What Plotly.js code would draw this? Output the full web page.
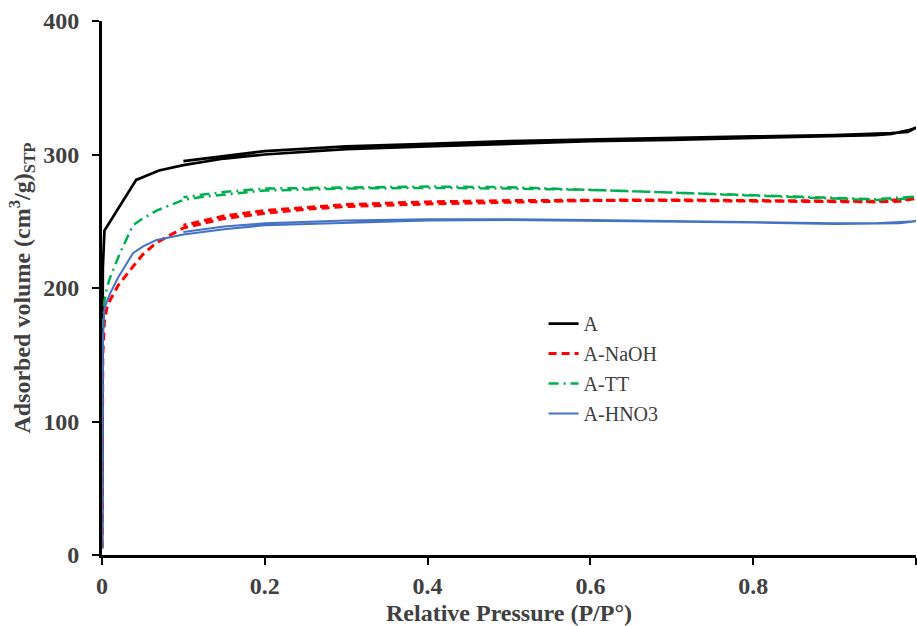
<!DOCTYPE html>
<html>
<head>
<meta charset="utf-8">
<script src="https://cdn.plot.ly/plotly-3.0.1.min.js"></script>
<style>html,body{margin:0;padding:0;background:#fff;}#chart{width:917px;height:626px;}</style>
</head>
<body>
<div id="chart"></div>
<script>
// Sample A (adsorption then desorption branch)
const aX = [0,0.0005,0.001,0.003,0.042,0.05,0.07,0.1,0.15,0.2,0.25,0.3,0.4,0.5,0.6,0.7,0.8,0.9,0.95,0.97,0.99,1.0,
            0.99,0.97,0.95,0.9,0.8,0.7,0.6,0.5,0.4,0.3,0.2,0.15,0.1];
const aY = [5,150,215,243,281,283,288,292,297,300,302,304,306,308,310,311,312.5,313.5,314.5,315.5,318,320,
            317,316,315.5,314.5,313.5,312.5,311.5,310,308,306,302.5,299,295];
// A-NaOH
const naohX = [0,0.001,0.003,0.006,0.01,0.02,0.038,0.05,0.067,0.1,0.15,0.2,0.25,0.3,0.4,0.5,0.6,0.7,0.8,0.9,0.95,0.98,1.0,
               0.95,0.9,0.8,0.7,0.6,0.5,0.4,0.3,0.2,0.15,0.1];
const naohY = [5,150,175,185,191,202,216,225,234,245,252,256,259,261,263,264.5,265.5,265.5,265,264.5,264.5,265,267,
               265,265,265.5,266,266,265.5,264.5,262.5,258,254,247];
// A-TT
const ttX = [0,0.001,0.003,0.006,0.01,0.022,0.038,0.05,0.067,0.1,0.12,0.15,0.2,0.3,0.4,0.5,0.6,0.7,0.8,0.9,0.95,0.98,1.0,
             0.95,0.9,0.8,0.7,0.6,0.5,0.4,0.3,0.2,0.15,0.1];
const ttY = [5,170,190,200,208,226,247,252,258,266,268,270,273,274.5,275,274.5,273.5,271.5,269,267,266,266.5,268.5,
             266.5,267.5,269.5,272,274,275.5,276,275.5,274.5,272,268];
// A-HNO3
const hno3X = [0,0.001,0.003,0.006,0.01,0.02,0.038,0.05,0.067,0.1,0.15,0.2,0.3,0.4,0.5,0.6,0.7,0.8,0.9,0.95,0.98,1.0,
               0.95,0.9,0.8,0.7,0.6,0.5,0.4,0.3,0.2,0.15,0.1];
const hno3Y = [5,160,185,190,196,208,226,231,236,240,244,247,249,250.5,251,250.5,250,249,248,248,248.5,250,
               248.5,248.5,249.5,250.5,251,251.5,251.5,250.5,248.5,246,242];

const names = ['A','A-NaOH','A-TT','A-HNO3'];
const xTickVals = [0,0.2,0.4,0.6,0.8,1];
const xTickText = ['0','0.2','0.4','0.6','0.8','1'];
const yTickVals = [0,100,200,300,400];
const yTickText = ['0','100','200','300','400'];

const serif = '"Liberation Serif", "Times New Roman", serif';
const txt = '#404040';

const traces = [
  {x:aX, y:aY, name:names[0], legendgroup:'g1', mode:'lines', line:{color:'#000000', width:2.75}},
  {x:naohX, y:naohY, name:names[1], legendgroup:'g2', mode:'lines', line:{color:'#ff0000', width:3, dash:'8px,5px'}},
  {x:ttX, y:ttY, name:names[2], legendgroup:'g3', mode:'lines', line:{color:'#00b050', width:2.5, dash:'10px,5px,2px,5px'}},
  {x:hno3X, y:hno3Y, name:names[3], legendgroup:'g4', mode:'lines', line:{color:'#4472c4', width:2}}
];

const layout = {
  width:917, height:626,
  margin:{l:102, r:1, t:21, b:71},
  paper_bgcolor:'#ffffff', plot_bgcolor:'#ffffff',
  showlegend:true,
  legend:{x:0.5425, y:0.47, xanchor:'left', yanchor:'top', bgcolor:'rgba(0,0,0,0)',
          font:{family:serif, size:20, color:txt}, traceorder:'grouped', tracegroupgap:1, itemwidth:30},
  xaxis:{range:[0,1], tickvals:xTickVals, ticktext:xTickText, showgrid:false, zeroline:false,
         showline:true, linecolor:'#000000', linewidth:3, ticks:'outside', ticklen:7, tickwidth:2, tickcolor:'#000000',
         tickfont:{family:serif, size:24, color:txt, weight:'bold'},
         title:{text:'<b>Relative Pressure (P/P°)</b>', font:{family:serif, size:24, color:txt}, standoff:10}},
  yaxis:{range:[0,400], tickvals:yTickVals, ticktext:yTickText, showgrid:false, zeroline:false,
         showline:true, linecolor:'#000000', linewidth:3, ticks:'outside', ticklen:7, tickwidth:2, tickcolor:'#000000',
         ticklabelstandoff:8,
         tickfont:{family:serif, size:24, color:txt, weight:'bold'},
         title:{text:'<b>Adsorbed volume (cm<sup>3</sup>/g)<sub>STP</sub></b>', font:{family:serif, size:24, color:txt}, standoff:6}}
};

Plotly.newPlot('chart', traces, layout, {displayModeBar:false, staticPlot:true});
</script>
</body>
</html>
